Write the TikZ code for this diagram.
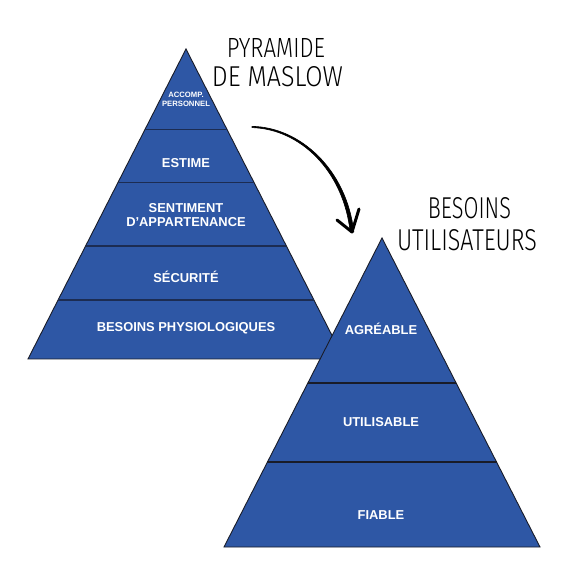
\documentclass[tikz,border=0pt]{standalone}
\usepackage{fontspec}
\setmainfont{Liberation Sans}
\newfontfamily\handfont{Fira Sans Light}
\usepackage{graphicx}
\definecolor{pyrblue}{RGB}{46,87,165}
\definecolor{sepnavy}{RGB}{28,44,82}
\definecolor{edgedark}{RGB}{25,28,40}
\tikzset{
  pyr/.style={fill=pyrblue, draw=edgedark, line width=0.9pt, line join=miter},
  sep/.style={draw=sepnavy, line width=1.5pt},
  lbl/.style={text=white, font=\bfseries\fontsize{12.9}{14}\selectfont, align=center, inner sep=0pt},
  lblsmall/.style={text=white, font=\bfseries\fontsize{7.7}{9}\selectfont, align=center, inner sep=0pt},
  hand/.style={inner sep=0pt, text=black},
  curvearrow/.style={draw=black, line width=3pt, line cap=round, line join=round},
  taper/.style={fill=black, draw=black, line width=0.6pt, line join=round}
}
\begin{document}
\begin{tikzpicture}[x=1pt,y=-1pt]
\useasboundingbox (0,0) rectangle (587,577);
\fill[white] (0,0) rectangle (587,577);

% Left pyramid (Maslow)
\coordinate (la) at (186,49);
\coordinate (ll) at (28,359);
\coordinate (lr) at (344,359);
\draw[pyr] (la) -- (lr) -- (ll) -- cycle;
\foreach \yy in {129.5,182.5,246,300}{
  \pgfmathsetmacro{\hw}{(\yy-49)/310*158}
  \draw[sep] ({186-\hw},\yy) -- ({186+\hw},\yy);
}
\node[lblsmall] (l1) at (186,99.5) {ACCOMP.\\PERSONNEL};
\node[lbl] (l2) at (186,163.5) {ESTIME};
\node[lbl] (l3) at (186,215) {SENTIMENT\\D’APPARTENANCE};
\node[lbl] (l4) at (186,277) {SÉCURITÉ};
\node[lbl] (l5) at (186,328) {BESOINS PHYSIOLOGIQUES};

% Right pyramid (user needs)
\coordinate (ra) at (382,238);
\coordinate (rl) at (224,547);
\coordinate (rr) at (540,547);
\draw[pyr] (ra) -- (rr) -- (rl) -- cycle;
\foreach \yy in {383,462}{
  \pgfmathsetmacro{\hw}{(\yy-238)/309*158}
  \draw[draw=edgedark, line width=1.1pt] ({382-\hw},\yy) -- ({382+\hw},\yy);
}
\node[lbl] (r1) at (381,329) {AGRÉABLE};
\node[lbl] (r2) at (381,422) {UTILISABLE};
\node[lbl] (r3) at (381,515) {FIABLE};

% Handwritten titles
\node[hand] (t1) at (276,48.5) {\resizebox{98pt}{19pt}{\handfont PYRAMIDE}};
\node[hand] (t2) at (277.5,77) {\resizebox{131pt}{20pt}{\handfont DE MASLOW}};
\node[hand] (t3) at (469.5,208.5) {\resizebox{83pt}{21pt}{\handfont BESOINS}};
\node[hand] (t4) at (467,240.5) {\resizebox{140pt}{21pt}{\handfont UTILISATEURS}};

% Curved, tapering arrow
\coordinate (as) at (252,127);
\coordinate (ae) at (352,232);
\coordinate (aw1) at (337,220);
\coordinate (aw2) at (359,209);
\fill[taper] (252,126.4) .. controls (300,127) and (346.7,169.6) .. (353.8,232)
  -- (350.2,232) .. controls (343.3,170.4) and (300,129) .. (252,127.6) -- cycle;
\draw[curvearrow] (aw1) -- (ae) -- (aw2);
\end{tikzpicture}
\end{document}
